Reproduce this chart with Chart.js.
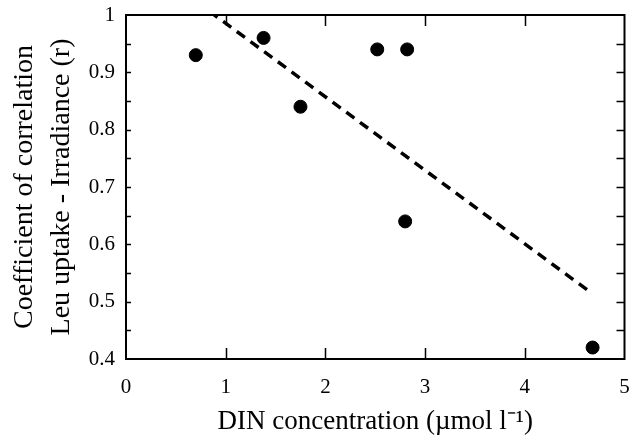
<!DOCTYPE html>
<html>
<head>
<meta charset="utf-8">
<script src="https://cdn.jsdelivr.net/npm/chart.js@4"></script>
<style>
	html, body { margin: 0; padding: 0; background: #fff; }
	#wrap { width: 632px; height: 441px; }
</style>
</head>
<body>
<div id="wrap"><canvas id="chartCanvas"></canvas></div>
<script>
// measured points: DIN concentration vs correlation coefficient
const dinValues = [0.70, 1.38, 1.75, 2.52, 2.82, 2.80, 4.68];
const rValues = [0.93, 0.96, 0.84, 0.94, 0.94, 0.64, 0.42];

// regression line end points
const fitX = [0.70, 4.67];
const fitY = [1.024, 0.515];

const xTicks = [0, 1, 2, 3, 4, 5];
const yTicks = [0.4, 0.5, 0.6, 0.7, 0.8, 0.9, 1];

const serif = "'Liberation Serif', 'Times New Roman', serif";

const points = dinValues.map((x, i) => ({ x: x, y: rValues[i] }));
const fitLine = fitX.map((x, i) => ({ x: x, y: fitY[i] }));

// inward tick marks on all four sides + frame
const tickMarks = {
	id: "tickMarks",
	afterDatasetsDraw(chart) {
		const ctx = chart.ctx;
		const xs = chart.scales.x;
		const ys = chart.scales.y;
		const area = chart.chartArea;
		ctx.save();
		ctx.strokeStyle = "#000";
		ctx.lineWidth = 1.5;
		ctx.beginPath();
		xTicks.slice(1, -1).forEach((v) => {
			const px = Math.round(xs.getPixelForValue(v)) + 0.5;
			ctx.moveTo(px, area.bottom);
			ctx.lineTo(px, area.bottom - 11);
			ctx.moveTo(px, area.top);
			ctx.lineTo(px, area.top + 11);
		});
		for (let v = 0.45; v < 1; v += 0.05) {
			const py = Math.round(ys.getPixelForValue(v)) + 0.5;
			ctx.moveTo(area.left, py);
			ctx.lineTo(area.left + 5, py);
			ctx.moveTo(area.right, py);
			ctx.lineTo(area.right - 8, py);
		}
		ctx.stroke();
		ctx.lineWidth = 2;
		ctx.strokeRect(area.left, area.top, area.right - area.left, area.bottom - area.top);
		ctx.restore();
	},
};

const data = {
	datasets: [
		{
			type: "scatter",
			data: points,
			backgroundColor: "#000",
			borderColor: "#000",
			pointRadius: 6.5,
			pointHoverRadius: 6.5,
		},
		{
			type: "line",
			data: fitLine,
			borderColor: "#000",
			borderWidth: 3.5,
			borderDash: [10, 7],
			pointRadius: 0,
			fill: false,
		},
	],
};

const config = {
	type: "scatter",
	data: data,
	plugins: [tickMarks],
	options: {
		responsive: false,
		animation: false,
		events: [],
		layout: {
			padding: { top: 15, right: 6, left: 0, bottom: 0 },
		},
		plugins: {
			legend: { display: false },
			tooltip: { enabled: false },
		},
		scales: {
			x: {
				type: "linear",
				min: 0,
				max: 5,
				afterFit: (scale) => {
					scale.height = 82;
					scale.paddingLeft = 0;
					scale.paddingRight = 0;
				},
				afterBuildTicks: (scale) => {
					scale.ticks = xTicks.map((v) => ({ value: v }));
				},
				grid: { display: false, drawTicks: false },
				border: { display: false },
				ticks: {
					color: "#000",
					padding: 16,
					maxRotation: 0,
					font: { family: serif, size: 21 },
				},
				title: {
					display: true,
					text: "DIN concentration (\u00b5mol l\u207b\u00b9)",
					color: "#000",
					font: { family: serif, size: 27 },
					padding: { top: 0, bottom: 3 },
				},
			},
			y: {
				type: "linear",
				min: 0.4,
				max: 1,
				afterFit: (scale) => {
					scale.width = 126;
					scale.paddingTop = 0;
					scale.paddingBottom = 0;
				},
				afterBuildTicks: (scale) => {
					scale.ticks = yTicks.map((v) => ({ value: v }));
				},
				grid: { display: false, drawTicks: false },
				border: { display: false },
				ticks: {
					color: "#000",
					padding: 11,
					font: { family: serif, size: 21 },
					callback: (v) => String(Math.round(v * 10) / 10),
				},
				title: {
					display: true,
					text: ["Coefficient of correlation", "Leu uptake - Irradiance (r)"],
					color: "#000",
					font: { family: serif, size: 28, lineHeight: 1.29 },
					padding: { top: 7, bottom: 0 },
				},
			},
		},
	},
};

const chartCanvas = document.getElementById("chartCanvas");
chartCanvas.width = 632;
chartCanvas.height = 441;
const chart = new Chart(chartCanvas, config);
</script>
</body>
</html>
